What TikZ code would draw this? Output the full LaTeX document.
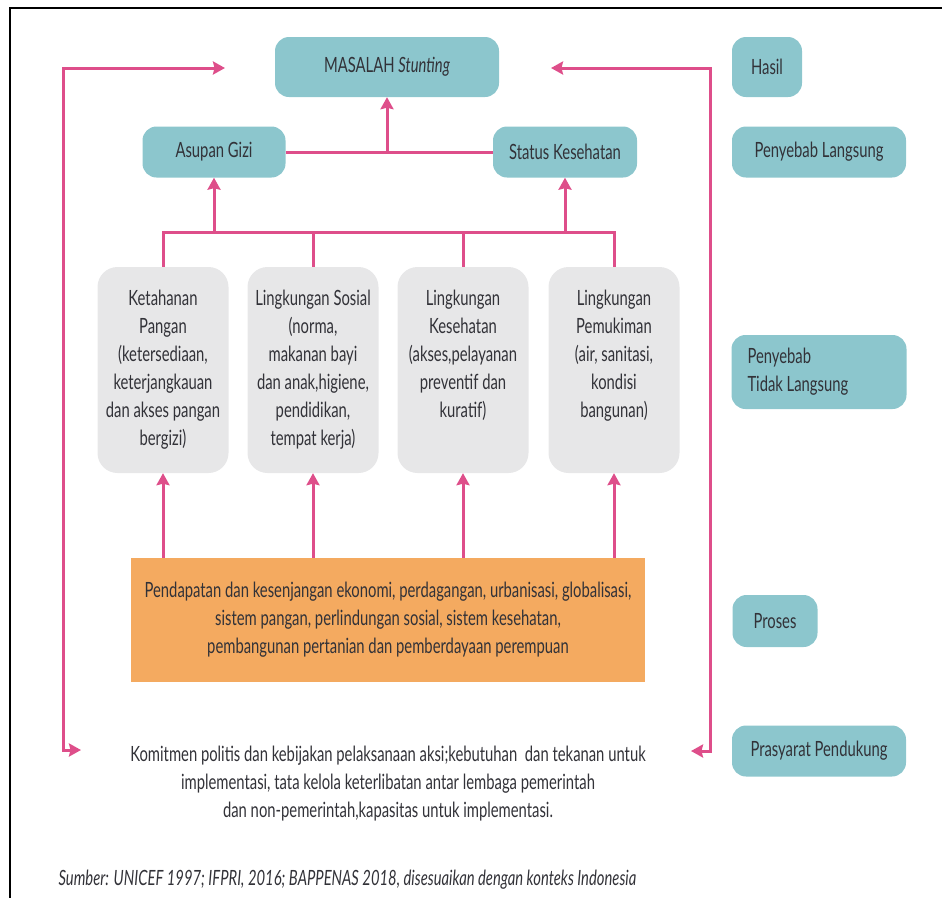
\documentclass[tikz,border=0pt]{standalone}
\usepackage{fontspec}
\setmainfont{Lato}[FakeStretch=0.705]
\usepackage{tikz}
\usetikzlibrary{arrows,arrows.meta,calc}
\tikzset{>={Stealth[length=12pt,width=13pt,inset=1.5pt]}}
\definecolor{tosca}{RGB}{140,198,205}
\definecolor{abuabu}{RGB}{231,231,232}
\definecolor{oranye}{RGB}{244,170,96}
\definecolor{merahmuda}{RGB}{222,78,138}
\definecolor{teks}{RGB}{50,50,56}
\tikzset{
  kotak/.style={fill=tosca, rounded corners=14pt, text=teks, align=center},
  sebab/.style={fill=abuabu, rounded corners=20pt, text=teks, minimum width=131pt, minimum height=206pt, inner sep=0pt},
  garis/.style={draw=merahmuda, line width=3pt},
  panah/.style={garis, ->},
}
\newcommand{\isisebab}[1]{\parbox[t][160pt][t]{128pt}{\centering #1}}

\begin{document}
\begin{tikzpicture}[x=1pt, y=-1pt, font=\fontsize{21}{28}\selectfont]
  \useasboundingbox (0,0) rectangle (942,898);
  \draw[line width=2.4pt] (942,8) -- (10,8) -- (10,898);

  \node[kotak, minimum width=224pt, minimum height=60pt] (masalah) at (387,67) {MASALAH \textit{Stunting}};
  \node[kotak, minimum width=143pt, minimum height=51pt] (asupan) at (214,152) {Asupan Gizi};
  \node[kotak, minimum width=144pt, minimum height=51pt] (status) at (565,152) {Status Kesehatan};

  \node[sebab] (pangan) at (163,370) {\isisebab{Ketahanan\\Pangan\\(ketersediaan,\\keterjangkauan\\dan akses pangan\\bergizi)}};
  \node[sebab] (sosial) at (313,370) {\isisebab{Lingkungan Sosial\\(norma,\\makanan bayi\\dan anak,higiene,\\pendidikan,\\tempat kerja)}};
  \node[sebab] (kesehatan) at (463,370) {\isisebab{Lingkungan\\Kesehatan\\(akses,pelayanan\\preventif dan\\kuratif)}};
  \node[sebab] (pemukiman) at (614,370) {\isisebab{Lingkungan\\Pemukiman\\(air, sanitasi,\\kondisi\\bangunan)}};

  \node[fill=oranye, text=teks, minimum width=514pt, minimum height=124pt, align=center] (pendapatan) at (388,620)
    {Pendapatan dan kesenjangan ekonomi, perdagangan, urbanisasi, globalisasi,\\sistem pangan, perlindungan sosial, sistem kesehatan,\\pembangunan pertanian dan pemberdayaan perempuan};
  \node[text=teks, align=center] (komitmen) at (388,784)
    {Komitmen politis dan kebijakan pelaksanaan aksi;kebutuhan\ \ dan tekanan untuk\\implementasi, tata kelola keterlibatan antar lembaga pemerintah\\dan non-pemerintah,kapasitas untuk implementasi.};
  \node[text=teks, anchor=west, font=\fontsize{21}{28}\selectfont\itshape] (sumber) at (55,880)
    {Sumber: UNICEF 1997; IFPRI, 2016; BAPPENAS 2018, disesuaikan dengan konteks Indonesia};

  \node[kotak, minimum width=70pt, minimum height=60pt] (hasil) at (767,67) {Hasil};
  \node[kotak, minimum width=174pt, minimum height=51pt] (langsung) at (819,152) {Penyebab Langsung};
  \node[kotak, minimum width=175pt, minimum height=74pt, text width=143pt, align=flush left] (tidaklangsung) at (819,372) {Penyebab\\Tidak Langsung};
  \node[kotak, minimum width=85pt, minimum height=52pt] (proses) at (775,621) {Proses};
  \node[kotak, minimum width=174pt, minimum height=51pt] (prasyarat) at (819,751) {Prasyarat Pendukung};

  \coordinate (cabang) at (387,232);
  \draw[garis] (asupan.east) -- (status.west);
  \draw[panah] (asupan.east -| masalah.south) -- (masalah.south);
  \draw[garis] (pangan.north) -- (pangan.north |- cabang) -- (pemukiman.north |- cabang) -- (pemukiman.north);
  \foreach \n in {sosial,kesehatan} \draw[garis] (\n.north) -- (\n.north |- cabang);
  \draw[panah] (asupan.south |- cabang) -- (asupan.south);
  \draw[panah] (status.south |- cabang) -- (status.south);
  \foreach \n in {pangan,sosial,kesehatan,pemukiman} \draw[panah] (\n.south |- pendapatan.north) -- (\n.south);

  \coordinate (kiriatas) at (225,68);
  \coordinate (kiribawah) at (81,750);
  \coordinate (kananatas) at (551,68);
  \coordinate (kananbawah) at (691,751);
  \draw[garis, <->] (kiriatas) -| ([xshift=-18pt]kiribawah) -- (kiribawah);
  \draw[garis, <->] (kananatas) -| ([xshift=19pt]kananbawah) -- (kananbawah);
\end{tikzpicture}
\end{document}
